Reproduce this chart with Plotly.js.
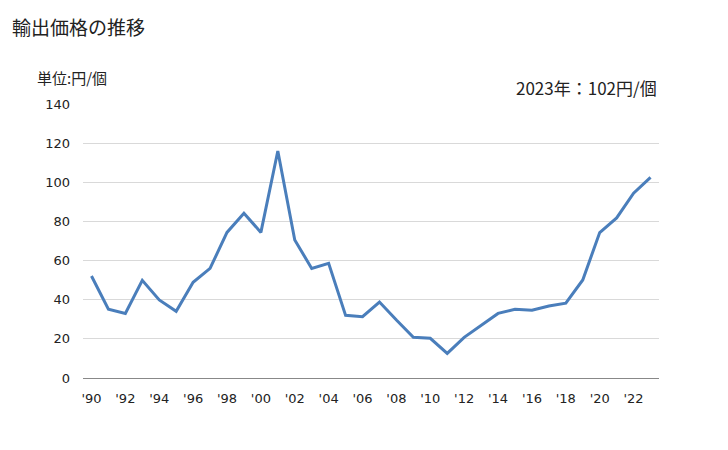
<!DOCTYPE html>
<html>
<head>
<meta charset="utf-8">
<script src="https://cdn.plot.ly/plotly-3.0.1.min.js"></script>
<style>
  body { margin: 0; background: #fff; }
  #chart { width: 728px; height: 450px; }
</style>
</head>
<body>
<div id="chart"></div>
<script>
var years = [1990, 1991, 1992, 1993, 1994, 1995, 1996, 1997, 1998, 1999,
             2000, 2001, 2002, 2003, 2004, 2005, 2006, 2007, 2008, 2009,
             2010, 2011, 2012, 2013, 2014, 2015, 2016, 2017, 2018, 2019,
             2020, 2021, 2022, 2023];
var prices = [52.1, 35.1, 33.0, 49.9, 39.9, 34.1, 48.9, 56.0, 74.4, 84.2,
              74.4, 116.0, 70.5, 56.0, 58.6, 32.0, 31.3, 38.8, 29.6, 20.8,
              20.3, 12.6, 20.8, 26.9, 33.0, 35.1, 34.6, 36.8, 38.2, 50.1,
              74.3, 81.8, 94.4, 102.5];
var tickYears = [1990, 1992, 1994, 1996, 1998, 2000, 2002, 2004, 2006, 2008,
                 2010, 2012, 2014, 2016, 2018, 2020, 2022];
var tickLabels = tickYears.map(function (y) { return "'" + String(y).slice(2); });
var yTicks = [0, 20, 40, 60, 80, 100, 120, 140];

var jp = '"Noto Sans CJK JP", sans-serif';

var trace = {
  x: years,
  y: prices,
  type: 'scatter',
  mode: 'lines',
  line: { color: '#4a7ebb', width: 3 },
  hoverinfo: 'x+y'
};

var layout = {
  width: 728,
  height: 450,
  margin: { l: 83, r: 69, t: 104, b: 72 },
  paper_bgcolor: '#fff',
  plot_bgcolor: '#fff',
  showlegend: false,
  title: {
    text: '輸出価格の推移',
    font: { family: jp, size: 19, color: '#222' },
    x: 12 / 728, xanchor: 'left', xref: 'container',
    y: 1 - 28 / 450, yanchor: 'middle', yref: 'container'
  },
  xaxis: {
    range: [1989.5, 2023.5],
    tickvals: tickYears,
    ticktext: tickLabels,
    showgrid: false,
    zeroline: false,
    showline: true,
    linecolor: '#888',
    linewidth: 1,
    ticks: '',
    ticklabelstandoff: 8,
    tickfont: { family: 'DejaVu Sans, sans-serif', size: 13, color: '#222' },
    fixedrange: true
  },
  yaxis: {
    range: [0, 140],
    tickvals: yTicks,
    showgrid: true,
    gridcolor: '#d9d9d9',
    gridwidth: 1,
    zeroline: false,
    showline: false,
    ticks: '',
    ticklabelstandoff: 12,
    tickfont: { family: 'DejaVu Sans, sans-serif', size: 13, color: '#222' },
    fixedrange: true
  },
  annotations: [
    {
      text: '単位:円/個',
      xref: 'paper', yref: 'paper',
      x: -0.083, y: 1.095,
      xanchor: 'left', yanchor: 'middle',
      showarrow: false,
      font: { family: jp, size: 15, color: '#222' }
    },
    {
      text: '2023年：102円/個',
      xref: 'paper', yref: 'paper',
      x: 1.0, y: 1.06,
      xanchor: 'right', yanchor: 'middle',
      showarrow: false,
      font: { family: jp, size: 17, color: '#222' }
    }
  ]
};

Plotly.newPlot('chart', [trace], layout, { displayModeBar: false, staticPlot: true });
</script>
</body>
</html>
